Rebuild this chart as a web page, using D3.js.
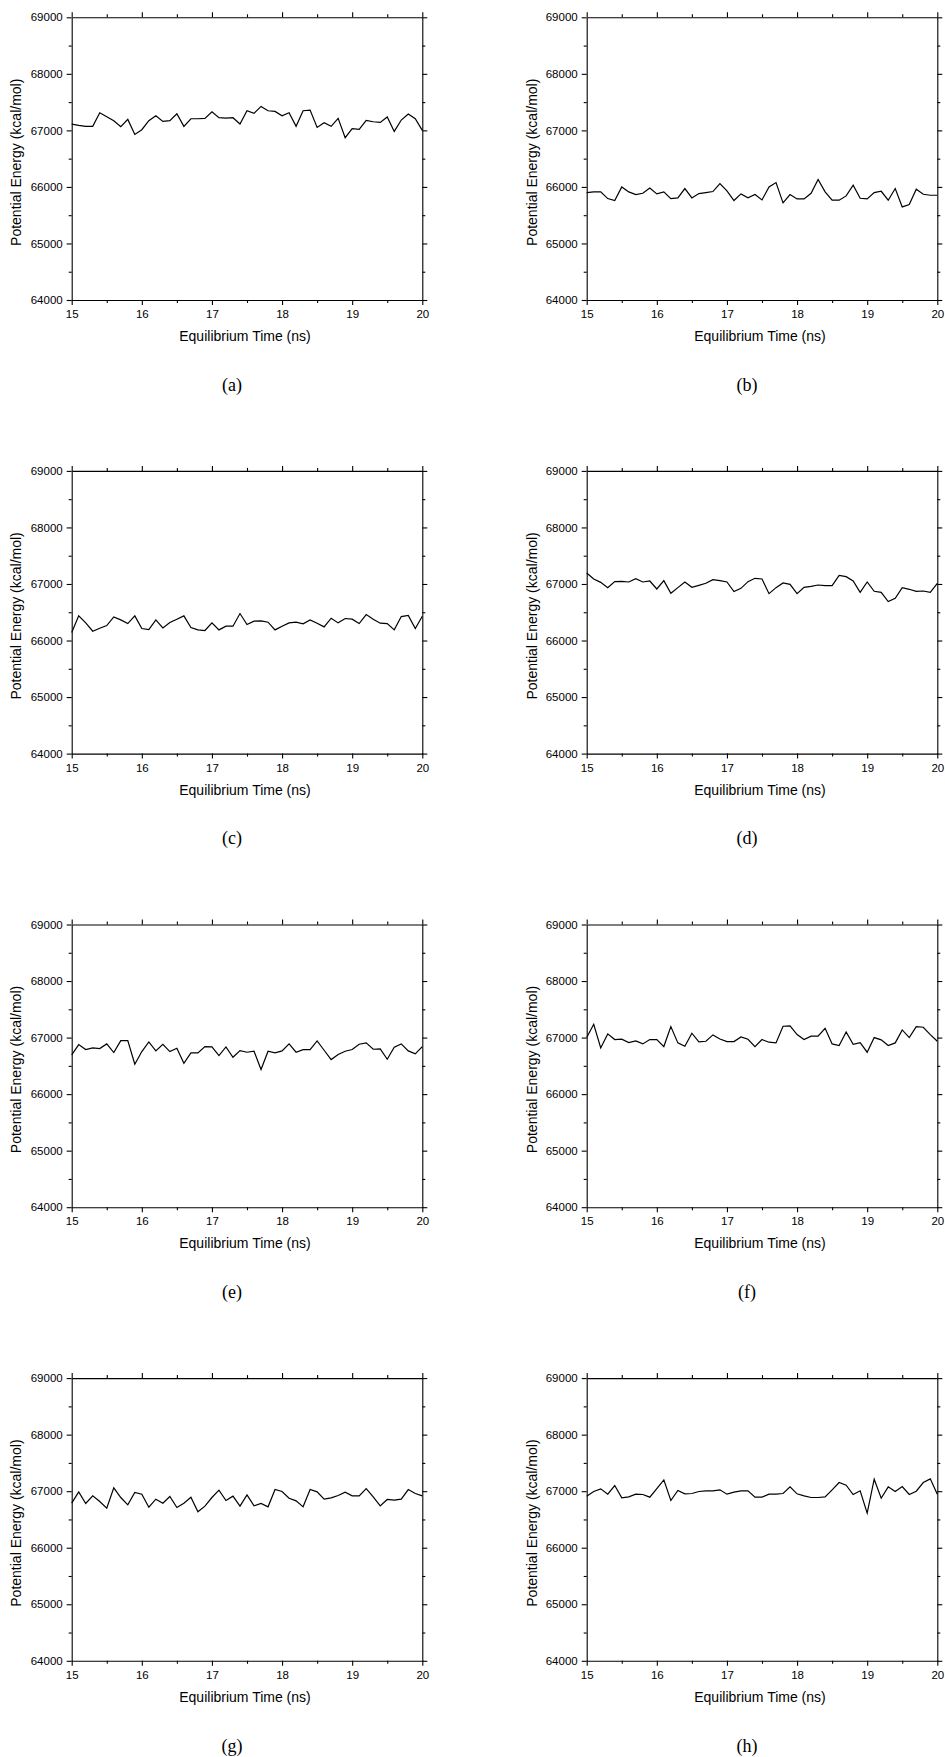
<!DOCTYPE html>
<html>
<head>
<meta charset="utf-8">
<script src="https://cdn.jsdelivr.net/npm/d3@7"></script>
<style>
  body { margin: 0; background: #fff; }
  svg { display: block; }
  .tick text { font-family: "Liberation Sans", Arial, sans-serif; font-size: 11.5px; fill: #000; }
  .axis path, .axis line { stroke: #000; stroke-width: 1.1; }
  .title { font-family: "Liberation Sans", Arial, sans-serif; font-size: 14px; fill: #000; }
  .caption { font-family: "Liberation Serif", "DejaVu Serif", serif; font-size: 18px; fill: #000; }
</style>
</head>
<body>
<div id="container"></div>
<script>
/** CONSTANTS AND GLOBALS */
const width = 945, height = 1757;
const plotW = 350.6, plotH = 282.7;
const colX = [71.7, 586.7];
const rowY = [17.3, 470.9, 924.5, 1378.1];

// time axis: 15..20 ns, every 0.1 ns
const time = d3.range(51).map(i => 15 + i / 10);
const xTicks = [15, 16, 17, 18, 19, 20];
const yTicks = [64000, 65000, 66000, 67000, 68000, 69000];
const captions = ["(a)", "(b)", "(c)", "(d)", "(e)", "(f)", "(g)", "(h)"];

// potential energy (kcal/mol)
const energyA = [67112, 67088, 67071, 67071, 67312, 67241, 67171, 67065, 67194, 66929, 67012, 67171, 67259, 67159, 67171, 67294, 67071, 67206, 67206, 67212, 67330, 67224, 67218, 67224, 67112, 67347, 67300, 67424, 67347, 67336, 67259, 67312, 67071, 67347, 67359, 67053, 67135, 67071, 67212, 66870, 67029, 67018, 67177, 67153, 67141, 67236, 66982, 67183, 67289, 67206, 67000];
const energyB = [65900, 65912, 65912, 65794, 65759, 66000, 65912, 65865, 65888, 65982, 65876, 65912, 65794, 65806, 65971, 65806, 65882, 65900, 65918, 66059, 65929, 65759, 65876, 65806, 65865, 65770, 66000, 66077, 65717, 65865, 65788, 65788, 65888, 66130, 65912, 65765, 65765, 65841, 66029, 65800, 65788, 65900, 65923, 65765, 65971, 65647, 65688, 65959, 65870, 65853, 65853];
const energyC = [66141, 66436, 66312, 66165, 66218, 66265, 66418, 66365, 66300, 66436, 66212, 66194, 66365, 66224, 66318, 66377, 66436, 66230, 66188, 66177, 66312, 66188, 66253, 66253, 66477, 66283, 66342, 66348, 66324, 66188, 66253, 66312, 66324, 66295, 66365, 66306, 66241, 66395, 66312, 66389, 66377, 66300, 66459, 66377, 66306, 66300, 66188, 66424, 66442, 66212, 66430];
const energyD = [67194, 67088, 67029, 66935, 67041, 67047, 67035, 67094, 67035, 67053, 66912, 67059, 66835, 66935, 67035, 66941, 66976, 67012, 67077, 67059, 67035, 66865, 66923, 67041, 67100, 67088, 66829, 66935, 67018, 66994, 66829, 66941, 66959, 66982, 66971, 66971, 67153, 67130, 67053, 66853, 67035, 66871, 66853, 66688, 66747, 66935, 66906, 66871, 66876, 66853, 67012];
const energyE = [66694, 66876, 66788, 66817, 66806, 66888, 66735, 66947, 66947, 66529, 66753, 66923, 66764, 66882, 66753, 66812, 66546, 66729, 66729, 66841, 66835, 66682, 66835, 66652, 66770, 66741, 66759, 66435, 66759, 66729, 66764, 66888, 66741, 66788, 66788, 66941, 66776, 66611, 66700, 66759, 66788, 66882, 66906, 66794, 66800, 66617, 66829, 66888, 66764, 66712, 66841];
const energyF = [67000, 67236, 66817, 67065, 66965, 66971, 66912, 66941, 66888, 66965, 66965, 66841, 67194, 66906, 66847, 67077, 66923, 66935, 67047, 66976, 66929, 66929, 67012, 66971, 66841, 66965, 66918, 66906, 67200, 67206, 67053, 66965, 67024, 67024, 67165, 66888, 66859, 67100, 66882, 66912, 66741, 67000, 66959, 66859, 66906, 67135, 67000, 67194, 67183, 67053, 66935];
const energyG = [66788, 66988, 66782, 66918, 66817, 66700, 67059, 66888, 66759, 66976, 66947, 66717, 66859, 66788, 66906, 66712, 66788, 66894, 66635, 66735, 66888, 67018, 66835, 66912, 66735, 66935, 66741, 66782, 66723, 67029, 66994, 66876, 66829, 66723, 67029, 66988, 66859, 66882, 66923, 66982, 66918, 66918, 67047, 66900, 66741, 66853, 66841, 66859, 67029, 66959, 66918];
const energyH = [66912, 66994, 67041, 66947, 67100, 66882, 66900, 66947, 66941, 66894, 67047, 67200, 66835, 67012, 66953, 66959, 66994, 67006, 67006, 67024, 66947, 66982, 67006, 67006, 66894, 66894, 66947, 66947, 66959, 67077, 66953, 66918, 66888, 66888, 66900, 67024, 67153, 67106, 66941, 67006, 66611, 67212, 66876, 67077, 66994, 67082, 66941, 67000, 67153, 67218, 66947];

const series = [energyA, energyB, energyC, energyD, energyE, energyF, energyG, energyH];

const svg = d3.select("#container")
  .append("svg")
  .attr("width", width)
  .attr("height", height);

const x = d3.scaleLinear().domain([15, 20]).range([0, plotW]);
const y = d3.scaleLinear().domain([64000, 69000]).range([plotH, 0]);
const xMinor = d3.range(15.5, 20, 1);
const yMinor = d3.range(64500, 69000, 1000);

const line = d3.line()
  .x((d, i) => x(time[i]))
  .y(d => y(d));

series.forEach((values, k) => {
  const col = k % 2, row = Math.floor(k / 2);
  const g = svg.append("g")
    .attr("transform", `translate(${colX[col]},${rowY[row]})`);

  // minor ticks (outward, all four sides)
  g.append("g").attr("class", "axis").attr("transform", `translate(0,${plotH})`)
    .call(d3.axisBottom(x).tickValues(xMinor).tickSize(3).tickFormat(""))
    .call(a => a.select(".domain").remove());
  g.append("g").attr("class", "axis")
    .call(d3.axisTop(x).tickValues(xMinor).tickSize(3).tickFormat(""))
    .call(a => a.select(".domain").remove());
  g.append("g").attr("class", "axis")
    .call(d3.axisLeft(y).tickValues(yMinor).tickSize(3).tickFormat(""))
    .call(a => a.select(".domain").remove());
  g.append("g").attr("class", "axis").attr("transform", `translate(${plotW},0)`)
    .call(d3.axisRight(y).tickValues(yMinor).tickSize(3).tickFormat(""))
    .call(a => a.select(".domain").remove());

  // major ticks
  g.append("g").attr("class", "axis").attr("transform", `translate(0,${plotH})`)
    .call(d3.axisBottom(x).tickValues(xTicks).tickSize(5).tickSizeOuter(0).tickPadding(5).tickFormat(d3.format("d")));
  g.append("g").attr("class", "axis")
    .call(d3.axisTop(x).tickValues(xTicks).tickSize(5).tickSizeOuter(0).tickFormat(""));
  g.append("g").attr("class", "axis")
    .call(d3.axisLeft(y).tickValues(yTicks).tickSize(5).tickSizeOuter(0).tickPadding(4).tickFormat(d3.format("d")));
  g.append("g").attr("class", "axis").attr("transform", `translate(${plotW},0)`)
    .call(d3.axisRight(y).tickValues(yTicks).tickSize(5).tickSizeOuter(0).tickFormat(""));

  g.append("path")
    .datum(values)
    .attr("d", line)
    .attr("fill", "none")
    .attr("stroke", "#000")
    .attr("stroke-width", 1.2)
    .attr("stroke-linejoin", "miter");

  g.append("text")
    .attr("class", "title")
    .attr("text-anchor", "middle")
    .attr("x", plotW / 2 - 2)
    .attr("y", 323.7)
    .text("Equilibrium Time (ns)");

  g.append("text")
    .attr("class", "title")
    .attr("text-anchor", "middle")
    .attr("transform", `translate(${21.5 - colX[0]},${145}) rotate(-90)`)
    .text("Potential Energy (kcal/mol)");

  g.append("text")
    .attr("class", "caption")
    .attr("text-anchor", "middle")
    .attr("x", 232 - colX[0])
    .attr("y", 373.5)
    .text(captions[k]);
});
</script>
</body>
</html>
